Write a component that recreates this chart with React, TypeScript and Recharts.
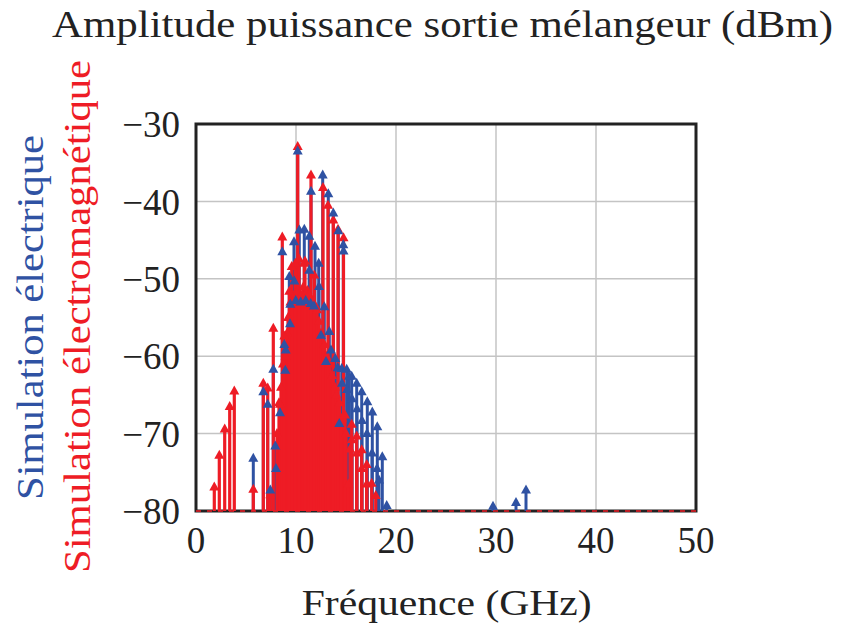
import React from "react";
import {
  ScatterChart,
  Scatter,
  XAxis,
  YAxis,
  CartesianGrid,
  ErrorBar,
  ReferenceArea,
  ReferenceLine,
} from "recharts";

// frequencies in GHz, amplitudes in dBm
const xTicks = [0, 10, 20, 30, 40, 50];
const yTicks = [-80, -70, -60, -50, -40, -30];

const blueFreq = [
  5.73, 6.73, 7.17, 7.43, 7.73, 7.93, 8.0, 8.4, 8.63, 8.83, 8.97, 8.93, 9.33, 9.4,
  9.43, 9.8, 9.83, 9.97, 10.17, 10.33, 10.47, 10.83, 10.97, 11.33, 11.33, 11.47,
  11.5, 11.8, 11.9, 12.27, 12.3, 12.5, 12.67, 12.83, 13.0, 13.23, 13.33, 13.5,
  13.73, 13.93, 14.17, 14.23, 14.33, 14.57, 14.73, 14.75, 15.07, 15.3, 15.57,
  16.07, 16.57, 17.13, 17.63, 18.13, 18.63, 19.07, 14.6, 15.1, 15.6, 16.1, 16.6,
  17.1, 17.6, 18.1, 18.3, 29.7, 32.0, 33.0,
];
const blueVal = [
  -73.2, -64.6, -66.2, -77.3, -61.7, -71.6, -74.5, -67.3, -46.5, -58.5, -59.2,
  -61.8, -49.7, -55.8, -53.3, -45.2, -50.3, -52.8, -33.5, -43.7, -53.0, -43.6,
  -52.8, -44.5, -48.9, -53.2, -38.7, -53.5, -45.8, -48.0, -51.0, -57.3, -36.6,
  -53.6, -60.7, -39.0, -56.8, -59.2, -41.5, -60.3, -61.5, -43.8, -68.7, -61.6,
  -45.6, -46.4, -61.7, -62.6, -62.6, -63.5, -64.6, -65.9, -67.2, -69.1, -73.0,
  -79.3, -63.5, -64.3, -65.5, -66.8, -68.3, -70.0, -72.5, -74.5, -76.0, -79.4,
  -78.9, -77.3,
];

const redFreq = [
  1.83, 2.33, 2.87, 3.37, 3.83, 5.73, 6.73, 7.17, 7.43, 7.73, 8.4, 8.63, 8.83,
  9.33, 9.57, 9.93, 10.17, 10.3, 10.83, 10.9, 11.5, 11.83, 12.7, 13.2, 13.73,
  14.2, 14.75, 14.5, 14.9, 15.23, 15.57, 16.07, 16.57, 17.07, 17.57, 17.97, 15.57,
  16.07, 16.57, 17.07,
];
const redVal = [
  -76.9, -72.8, -69.4, -66.5, -64.5, -77.2, -63.5, -64.1, -77.9, -56.4, -66.2,
  -44.6, -57.4, -51.6, -48.4, -48.0, -32.9, -47.4, -48.0, -47.7, -36.6, -49.5,
  -38.2, -40.5, -42.4, -43.6, -44.7, -68.5, -67.6, -76.5, -68.8, -70.3, -72.1,
  -74.0, -76.4, -78.0, -70.8, -72.5, -74.5, -76.5,
];

// the packed red lines under the main peaks
const redDenseFreq = [
  8.1, 8.3, 8.5, 8.7, 8.95, 9.1, 9.2, 9.45, 9.7, 9.85, 10.05, 10.2, 10.45, 10.6,
  10.75, 11.0, 11.15, 11.3, 11.65, 11.95, 12.1, 12.3, 12.5, 12.85, 13.05, 13.4,
  13.6, 13.9, 14.05, 14.35, 14.6, 15.0, 15.4,
];
const redDenseVal = [
  -70, -66, -64, -61, -60, -57, -55, -53, -53, -52, -52.5, -51.5, -53, -52, -51,
  -52.5, -51.5, -52, -53, -53.5, -54, -55.5, -57, -58.5, -60, -61, -62.5, -64,
  -65, -66, -68, -70, -72,
];

const BASE = -80;
const BLUE = "#2f52a3";
const RED = "#ee1c25";

const toPoints = (fs: number[], vs: number[]) =>
  fs.map((f, i) => ({ f, v: vs[i], err: [vs[i] - BASE, 0] }));

const blueData = toPoints(blueFreq, blueVal);
const redData = toPoints(
  [...redDenseFreq, ...redFreq],
  [...redDenseVal, ...redVal]
);

const tri = (color: string) => (props: any) => {
  const { cx, cy } = props;
  if (cx == null || cy == null) return <g />;
  return (
    <path
      d={`M${cx},${cy - 5.5} L${cx + 5},${cy + 3.5} L${cx - 5},${cy + 3.5} Z`}
      fill={color}
    />
  );
};
const none = () => <g />;

const fmt = (v: number) => (v < 0 ? "\u2212" + Math.abs(v) : String(v));
const serif = "'Liberation Serif', 'DejaVu Serif', serif";
const tickStyle = { fontSize: 37, fontFamily: serif, fill: "#222" };

export default function App() {
  return (
    <div style={{ position: "absolute", left: 0, top: 0, width: 843, height: 624, background: "#fff" }}>
      <ScatterChart
        width={843}
        height={624}
        margin={{ top: 124, right: 147, bottom: 53, left: 0 }}
      >
        <CartesianGrid stroke="#c4c4c4" strokeWidth={1.5} />
        <XAxis
          type="number"
          dataKey="f"
          domain={[0, 50]}
          ticks={xTicks}
          allowDataOverflow
          height={60}
          tickLine={false}
          axisLine={false}
          tickSize={8}
          tickMargin={8}
          tick={tickStyle}
        />
        <YAxis
          type="number"
          dataKey="v"
          domain={[-80, -30]}
          ticks={yTicks}
          allowDataOverflow
          width={196}
          tickLine={false}
          axisLine={false}
          tickSize={8}
          tickMargin={8}
          tickFormatter={fmt}
          tick={tickStyle}
        />
        <Scatter data={blueData} shape={none} isAnimationActive={false}>
          <ErrorBar dataKey="err" direction="y" width={0} stroke={BLUE} strokeWidth={3} />
        </Scatter>
        <Scatter data={redData} shape={tri(RED)} isAnimationActive={false}>
          <ErrorBar dataKey="err" direction="y" width={0} stroke={RED} strokeWidth={3.2} />
        </Scatter>
        <Scatter data={blueData} shape={tri(BLUE)} isAnimationActive={false} />
        <ReferenceArea
          x1={0}
          x2={50}
          y1={-80}
          y2={-30}
          fill="none"
          fillOpacity={0}
          stroke="#222"
          strokeWidth={3}
        />
        <ReferenceLine y={-80} stroke={RED} strokeWidth={1.5} strokeDasharray="5 6" />
      </ScatterChart>
      <svg
        width={843}
        height={624}
        style={{ position: "absolute", left: 0, top: 0, pointerEvents: "none" }}
        fontFamily={serif}
      >
        <text x={442.5} y={37} fontSize={37} textAnchor="middle" fill="#222" textLength={781} lengthAdjust="spacingAndGlyphs">
          Amplitude puissance sortie mélangeur (dBm)
        </text>
        <text x={446.7} y={615} fontSize={36} textAnchor="middle" fill="#222" textLength={290} lengthAdjust="spacingAndGlyphs">
          Fréquence (GHz)
        </text>
        <text x={43} y={317.5} fontSize={37} textAnchor="middle" fill={BLUE} transform="rotate(-90 43 317.5)" textLength={365} lengthAdjust="spacingAndGlyphs">
          Simulation électrique
        </text>
        <text x={90} y={316.5} fontSize={37} textAnchor="middle" fill={RED} transform="rotate(-90 90 316.5)" textLength={513} lengthAdjust="spacingAndGlyphs">
          Simulation électromagnétique
        </text>
      </svg>
    </div>
  );
}
